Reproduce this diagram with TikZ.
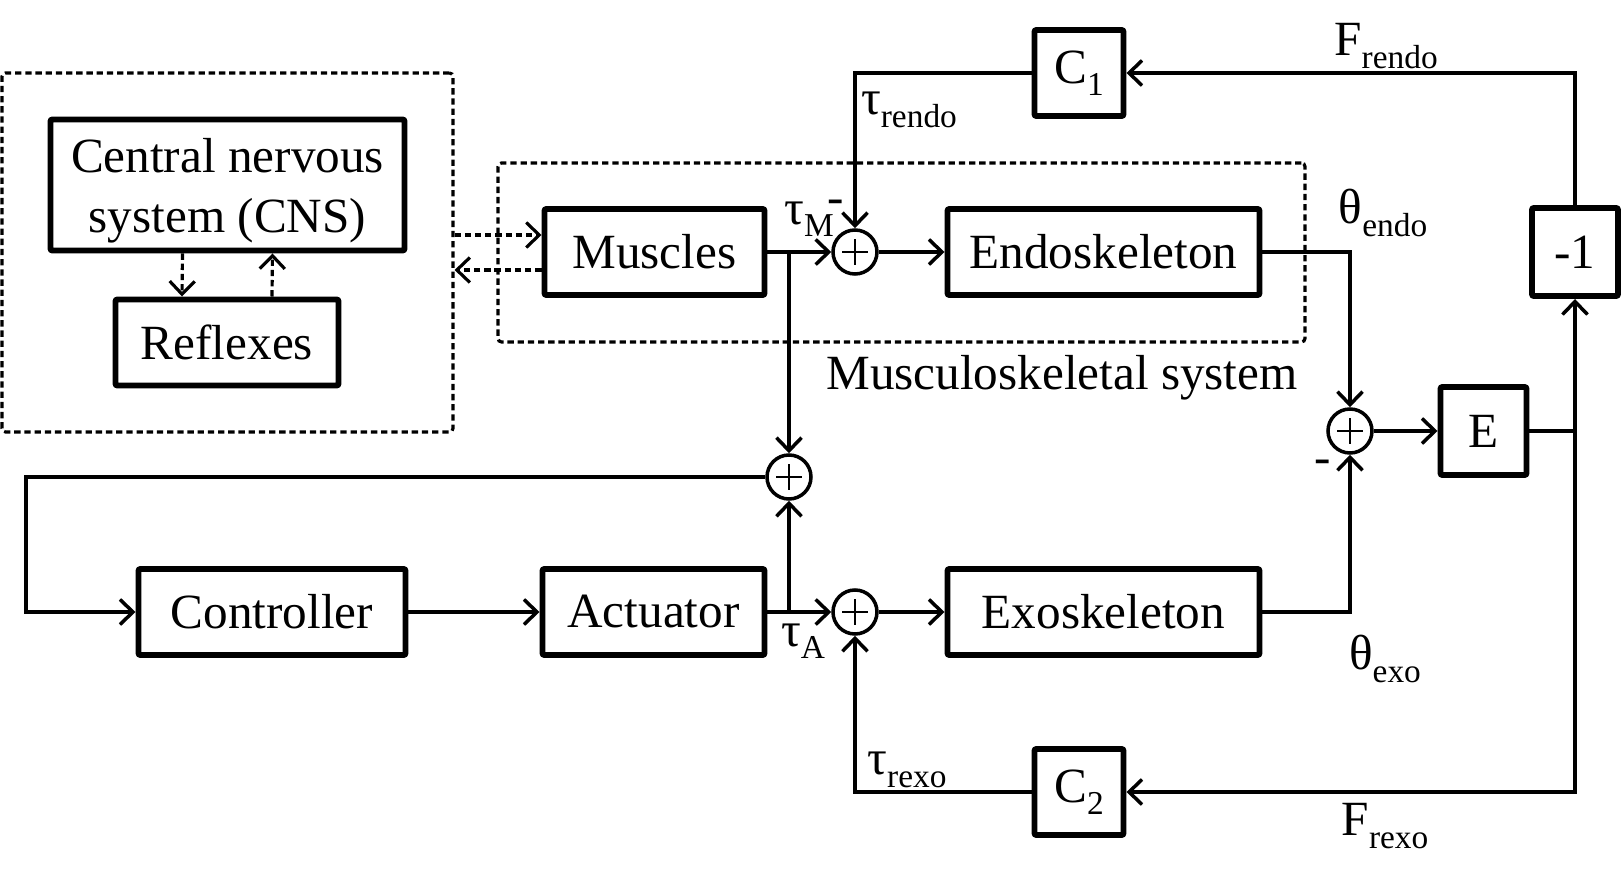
\documentclass[tikz,border=0pt]{standalone}
\usepackage{fontspec}
\setmainfont{Liberation Serif}
\usetikzlibrary{arrows.meta}
\newcommand{\lowsub}[1]{\raisebox{-0.55ex}{\fontsize{9.5}{10}\selectfont #1}}

\begin{document}
\begin{tikzpicture}[
	>={Straight Barb[length=1.3mm,width=2.5mm]},
	blk/.style = {draw, line width=1.7pt, rounded corners=0.6pt, minimum height=0.86cm, inner sep=0pt, font=\fontsize{14}{17}\selectfont},
	sumj/.style = {draw, circle, line width=1pt, minimum size=0.44cm, inner sep=0pt,
		path picture={\draw[line width=0.6pt] ([xshift=-1.3mm]path picture bounding box.center) -- ([xshift=1.3mm]path picture bounding box.center)
			([yshift=-1.3mm]path picture bounding box.center) -- ([yshift=1.3mm]path picture bounding box.center);}},
	lbl/.style = {inner sep=0pt, font=\fontsize{14}{17}\selectfont},
	sig/.style = {line width=1pt},
	dots/.style = {line width=0.9pt, dash pattern=on 1.8pt off 1.1pt},
]
	\useasboundingbox (0,0) rectangle (16.24,8.74);

	\node[draw, dots, rounded corners=1pt, minimum width=4.51cm, minimum height=3.59cm] (brain) at (2.275,6.215) {};
	\node[draw, dots, rounded corners=1pt, minimum width=8.07cm, minimum height=1.79cm] (msk) at (9.015,6.215) {};
	\node[blk, minimum width=3.54cm, minimum height=1.31cm, align=center] (cns) at (2.275,6.89) {\rule{0pt}{13pt}Central nervous\\system (CNS)};
	\node[blk, minimum width=2.23cm] (rfx) at (2.27,5.315) {Reflexes};
	\node[blk, minimum width=2.2cm] (mus) at (6.545,6.22) {Muscles};
	\node[sumj] (s1) at (8.55,6.22) {};
	\node[blk, minimum width=3.12cm] (endo) at (11.035,6.22) {Endoskeleton};
	\node[blk, minimum width=0.89cm] (c1) at (10.79,8.01) {C\lowsub{1}};
	\node[blk, minimum width=0.86cm, minimum height=0.88cm] (neg) at (15.75,6.22) {-1};
	\node[blk, minimum width=0.86cm, minimum height=0.88cm] (e) at (14.835,4.43) {E};
	\node[sumj] (s2) at (13.50,4.43) {};
	\node[sumj] (s3) at (7.89,3.97) {};
	\node[blk, minimum width=2.67cm] (ctl) at (2.72,2.62) {Controller};
	\node[blk, minimum width=2.22cm] (act) at (6.535,2.62) {Actuator};
	\node[sumj] (s4) at (8.55,2.62) {};
	\node[blk, minimum width=3.12cm] (exo) at (11.035,2.62) {Exoskeleton};
	\node[blk, minimum width=0.89cm] (c2) at (10.79,0.82) {C\lowsub{2}};
	\coordinate (lp) at (0.26,0);

	\node[lbl] (frendo) at (13.86,8.28) {F\lowsub{rendo}};
	\node[lbl] (trendo) at (9.09,7.64) {τ\lowsub{rendo}};
	\node[lbl] (tm) at (8.09,6.55) {τ\lowsub{M}};
	\node[lbl] (m1) at (8.36,6.67) {-};
	\node[lbl] (thendo) at (13.83,6.61) {θ\lowsub{endo}};
	\node[lbl] (msys) at (10.62,4.96) {Musculoskeletal system};
	\node[lbl] (m2) at (13.23,4.07) {-};
	\node[lbl] (ta) at (8.03,2.33) {τ\lowsub{A}};
	\node[lbl] (thexo) at (13.85,2.15) {θ\lowsub{exo}};
	\node[lbl] (trexo) at (9.07,1.04) {τ\lowsub{rexo}};
	\node[lbl] (frexo) at (13.85,0.48) {F\lowsub{rexo}};

	\draw[dots,->] ([xshift=-4.5mm]cns.south) -- ([xshift=-4.5mm]rfx.north);
	\draw[dots,->] ([xshift=4.5mm]rfx.north) -- ([xshift=4.5mm]cns.south);
	\draw[dots,->] ([yshift=1.7mm]brain.east |- mus.west) -- ([yshift=1.7mm]mus.west);
	\draw[dots,->] ([yshift=-1.8mm]mus.west) -- ([yshift=-1.8mm]brain.east |- mus.west);

	\draw[sig,->] (mus) -- (s1);
	\draw[sig,->] (s1) -- (endo);
	\draw[sig,->] (c1) -| (s1);
	\draw[sig,->] (neg) |- (c1);
	\draw[sig,->] (endo) -| (s2);
	\draw[sig,->] (exo) -| (s2);
	\draw[sig,->] (s2) -- (e);
	\draw[sig,->] (e) -| (neg);
	\draw[sig,->] (e.east -| neg) |- (c2);
	\draw[sig,->] (c2) -| (s4);
	\draw[sig,->] (ctl) -- (act);
	\draw[sig,->] (act) -- (s4);
	\draw[sig,->] (s4) -- (exo);
	\draw[sig,->] (mus.east -| s3) -- (s3);
	\draw[sig,->] (act.east -| s3) -- (s3);
	\draw[sig,->] (s3) -- (s3 -| lp) |- (ctl);
\end{tikzpicture}
\end{document}
